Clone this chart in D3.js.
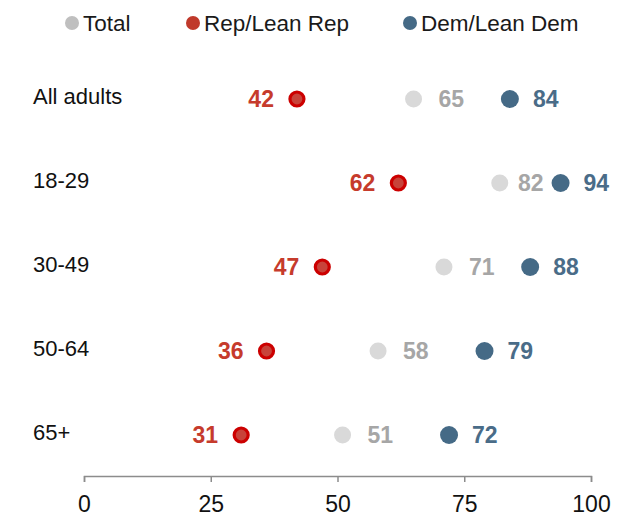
<!DOCTYPE html>
<html>
<head>
<meta charset="utf-8">
<script src="https://cdn.jsdelivr.net/npm/d3@7"></script>
<style>
  html, body { margin: 0; padding: 0; background: #fff; }
  svg { display: block; font-family: "Liberation Sans", Arial, sans-serif; }
</style>
</head>
<body>
<svg id="chart" width="623" height="516"></svg>
<script>
// Share by age group and party
const categories = ["All adults", "18-29", "30-49", "50-64", "65+"];
const totalValues = [65, 82, 71, 58, 51];
const repValues = [42, 62, 47, 36, 31];
const demValues = [84, 94, 88, 79, 72];
const xTicks = [0, 25, 50, 75, 100];

const legendItems = [
  { label: "Total", color: "#bfbfbf" },
  { label: "Rep/Lean Rep", color: "#c0392b" },
  { label: "Dem/Lean Dem", color: "#456a86" }
];

const svg = d3.select("#chart");

const x = d3.scaleLinear().domain([0, 100]).range([84, 591]);
const y = d3.scalePoint().domain(categories).range([99, 435]);

// Legend
const legendX = [72, 193, 410];
const legend = svg.append("g").attr("class", "legend");
legendItems.forEach((item, i) => {
  const g = legend.append("g").attr("transform", `translate(${legendX[i]},23)`);
  g.append("circle").attr("r", 7).attr("fill", item.color);
  g.append("text")
    .attr("x", 11)
    .attr("dy", "0.35em")
    .attr("font-size", 22.5)
    .attr("fill", "#1a1a1a")
    .text(item.label);
});

// Category labels
svg.append("g").selectAll("text")
  .data(categories)
  .join("text")
  .attr("x", 33)
  .attr("y", d => y(d) - 3)
  .attr("dy", "0.35em")
  .attr("font-size", 22)
  .attr("fill", "#111")
  .text(d => d);

// Rows of dots
const rows = categories.map((c, i) => ({
  cat: c, total: totalValues[i], rep: repValues[i], dem: demValues[i]
}));

const row = svg.append("g").selectAll("g")
  .data(rows)
  .join("g")
  .attr("transform", d => `translate(0,${y(d.cat)})`);

const demR = 9;

// Total
row.append("circle")
  .attr("cx", d => x(d.total))
  .attr("r", 8.5)
  .attr("fill", "#d9d9d9");
const totalLabels = row.append("text")
  .attr("dy", "0.36em")
  .attr("font-size", 23)
  .attr("font-weight", "bold")
  .attr("fill", "#a6a6a6")
  .text(d => d.total);
// Pull the total label in when it would run into the Dem dot
totalLabels.attr("x", function (d) {
  const w = this.getComputedTextLength();
  return Math.min(x(d.total) + 25, x(d.dem) - demR - 8 - w);
});

// Dem/Lean Dem
row.append("circle")
  .attr("cx", d => x(d.dem))
  .attr("r", demR)
  .attr("fill", "#456a86");
row.append("text")
  .attr("x", d => x(d.dem) + 23)
  .attr("dy", "0.36em")
  .attr("font-size", 23)
  .attr("font-weight", "bold")
  .attr("fill", "#4a6c88")
  .text(d => d.dem);

// Rep/Lean Rep
row.append("circle")
  .attr("cx", d => x(d.rep))
  .attr("r", 7)
  .attr("fill", "#c8433a")
  .attr("stroke", "#cc0000")
  .attr("stroke-width", 3.2);
row.append("text")
  .attr("x", d => x(d.rep) - 23)
  .attr("dy", "0.36em")
  .attr("text-anchor", "end")
  .attr("font-size", 23)
  .attr("font-weight", "bold")
  .attr("fill", "#c63b2c")
  .text(d => d.rep);

// Bottom axis with ticks hanging below the baseline
const axis = svg.append("g")
  .attr("transform", "translate(0,476)")
  .call(d3.axisBottom(x).tickValues(xTicks).tickSize(6).tickSizeOuter(6).tickPadding(14).tickFormat(d3.format("d")));
axis.select(".domain").attr("stroke", "#8c8c8c").attr("stroke-width", 1.5);
axis.selectAll(".tick line").attr("stroke", "#8c8c8c").attr("stroke-width", 1.5);
axis.selectAll(".tick text")
  .attr("font-size", 23)
  .attr("fill", "#111")
  .attr("font-family", "'Liberation Sans', Arial, sans-serif");
</script>
</body>
</html>
